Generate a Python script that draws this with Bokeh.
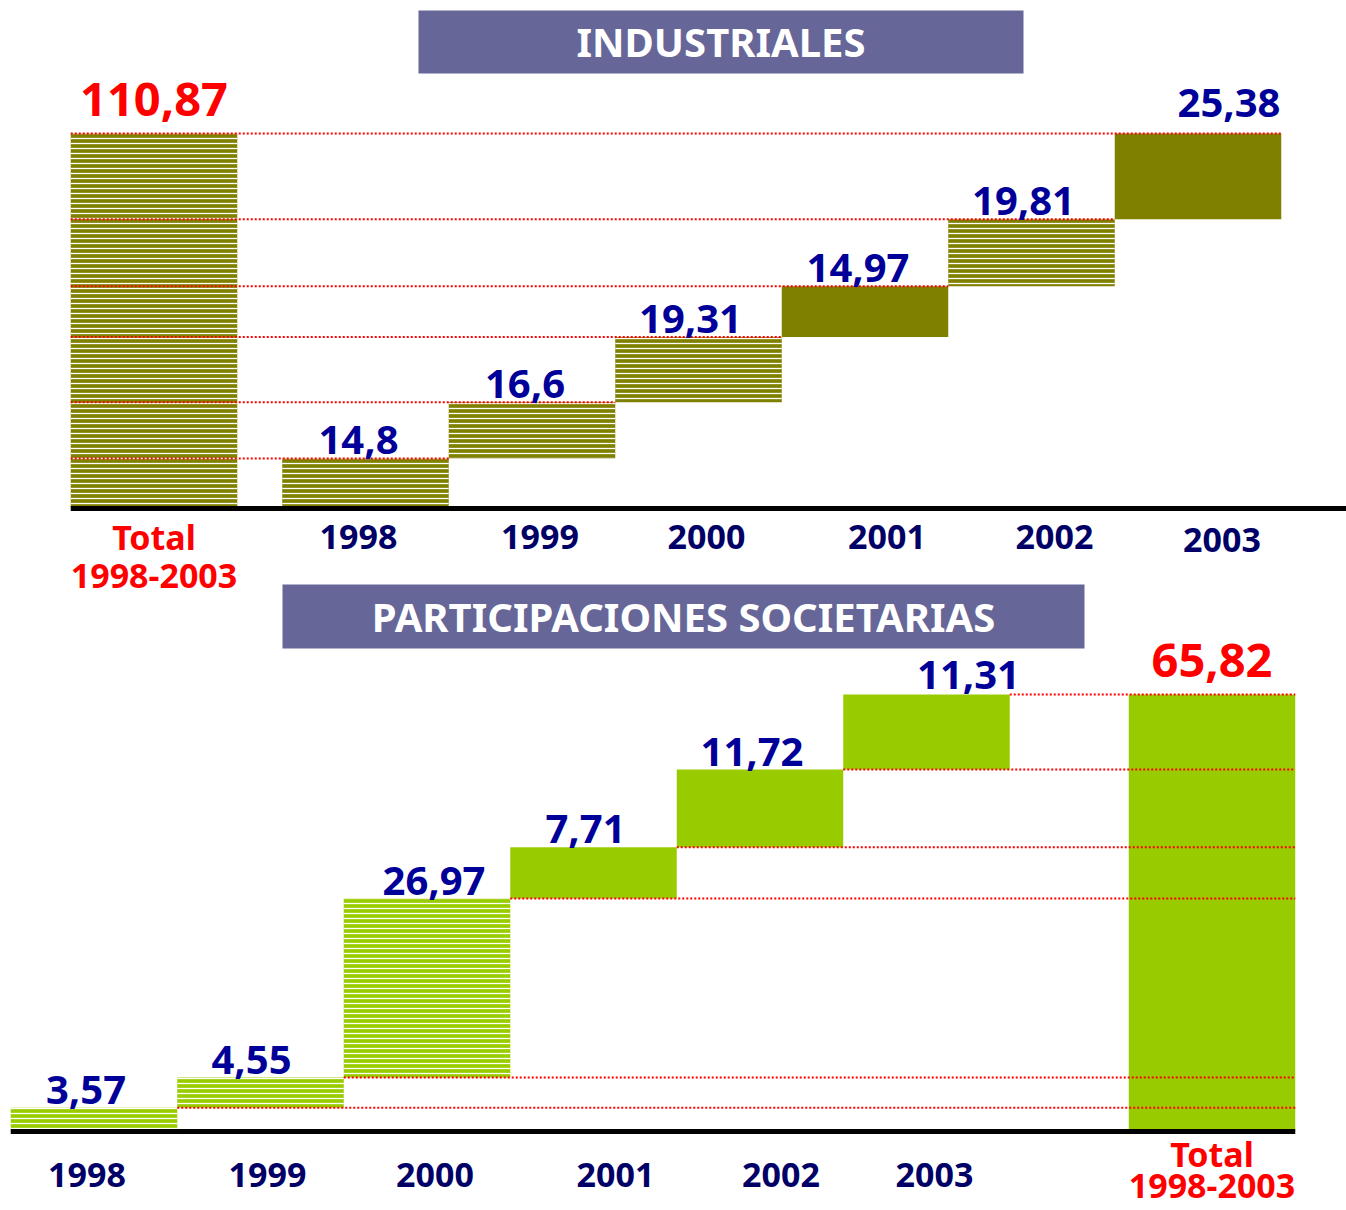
import numpy as np
from bokeh.plotting import figure
from bokeh.models import Range1d, ColumnDataSource
from bokeh.embed import file_html
from bokeh.resources import INLINE
from bokeh.core.properties import value

# ---------------- data ----------------
ind_title = "INDUSTRIALES"
ind_years = ["1998", "1999", "2000", "2001", "2002", "2003"]
ind_values = [14.8, 16.6, 19.31, 14.97, 19.81, 25.38]
ind_hatched = [True, True, True, False, True, False]
ind_total = 110.87

par_title = "PARTICIPACIONES SOCIETARIAS"
par_years = ["1998", "1999", "2000", "2001", "2002", "2003"]
par_values = [3.57, 4.55, 26.97, 7.71, 11.72, 11.31]
par_hatched = [True, True, True, False, False, False]
par_total = 65.82

total_category = ["Total", "1998-2003"]

# ---------------- style / layout ----------------
FONT = value("Noto Sans")
OLIVE = "#808000"
LIME = "#99CC00"
HEADER = "#666699"
VAL_BLUE = "#000099"
CAT_BLUE = "#000066"
RED = "#FF0000"

PAGE = 0
FW, FH = 1346, 1210
BW = 166.5  # pixel width of one category slot

# top chart geometry (page pixels)
T_X0, T_BASE, T_TOP, T_TOTAL_DX = 365.0, 508.0, 133.0, -211.5
# bottom chart geometry (page pixels)
B_X0, B_BASE, B_TOP, B_TOTAL_DX = 93.5, 1131.0, 694.0, 1118.0

kt = ind_total / (T_BASE - T_TOP)
kb = par_total / (B_BASE - B_TOP)


def fmt(v):
    return f"{v:g}".replace(".", ",")


p = figure(width=FW, height=FH, output_backend="svg", toolbar_location=None,
           x_range=Range1d((PAGE - T_X0) / BW, (PAGE + FW - T_X0) / BW),
           y_range=Range1d(-(PAGE + FH - T_BASE) * kt, (T_BASE - PAGE) * kt),
           x_axis_location=None, y_axis_location=None, min_border=0,
           outline_line_color=None, background_fill_color="white",
           border_fill_color="white")
p.grid.visible = False
p.extra_x_ranges = {"b": Range1d((PAGE - B_X0) / BW, (PAGE + FW - B_X0) / BW)}
p.extra_y_ranges = {"b": Range1d(-(PAGE + FH - B_BASE) * kb, (B_BASE - PAGE) * kb)}


def draw_chart(years, values, hatched, total, color, total_x, total_hatched,
               lines_to_left, rng, val_dx, val_dy, cat_dx, cat_dy, tot_dy):
    kw = {}
    if rng:
        kw = dict(x_range_name=rng, y_range_name=rng)
    n = len(values)
    xs = np.arange(n, dtype=float)
    tops = np.cumsum(values)
    bottoms = tops - np.array(values)
    hmask = np.array(hatched)

    hatch = dict(hatch_pattern="horizontal_line", hatch_color="white",
                 hatch_scale=5, hatch_weight=1.3)
    # hatched bars
    p.vbar(x=xs[hmask], width=1.0, bottom=bottoms[hmask], top=tops[hmask],
           fill_color=color, line_color=None, **hatch, **kw)
    p.vbar(x=xs[~hmask], width=1.0, bottom=bottoms[~hmask], top=tops[~hmask],
           fill_color=color, line_color=None, **kw)
    # total bar
    if total_hatched:
        p.vbar(x=[total_x], width=1.0, bottom=[0], top=[total],
               fill_color=color, line_color=None, **hatch, **kw)
    else:
        p.vbar(x=[total_x], width=1.0, bottom=[0], top=[total],
               fill_color=color, line_color=None, **kw)

    # dotted connector lines
    if lines_to_left:
        x0 = [total_x - 0.5] * n
        x1 = list(xs + 0.5)
    else:
        x0 = list(xs + 0.5)
        x1 = [total_x + 0.5] * n
    p.segment(x0=x0, y0=tops, x1=x1, y1=tops, line_color=RED,
              line_dash="2 2", line_width=2, **kw)

    # value labels
    vsrc = ColumnDataSource(dict(x=xs, y=tops, t=[fmt(v) for v in values],
                                 dx=val_dx, dy=val_dy))
    p.text(x="x", y="y", text="t", x_offset="dx", y_offset="dy", source=vsrc,
           text_font=FONT, text_font_style="bold", text_font_size="40px",
           text_color=VAL_BLUE, text_align="center",
           text_baseline="middle", **kw)
    # total label
    p.text(x=[total_x], y=[total], text=[fmt(total)], y_offset=[-34],
           text_font=FONT, text_font_style="bold", text_font_size="47px",
           text_color=RED, text_align="center", text_baseline="middle", **kw)

    # category labels
    csrc = ColumnDataSource(dict(x=xs, y=[0] * n, t=years, dx=cat_dx, dy=cat_dy))
    p.text(x="x", y="y", text="t", x_offset="dx", y_offset="dy", source=csrc,
           text_font=FONT, text_font_style="bold", text_font_size="34px",
           text_color=CAT_BLUE, text_align="center", text_baseline="middle", **kw)
    for lab, dy in zip(total_category, tot_dy):
        p.text(x=[total_x], y=[0], text=[lab], y_offset=[dy],
               text_font=FONT, text_font_style="bold", text_font_size="34px",
               text_color=RED, text_align="center", text_baseline="middle", **kw)


# ---------------- top chart: INDUSTRIALES ----------------
t_total_x = T_TOTAL_DX / BW
draw_chart(ind_years, ind_values, ind_hatched, ind_total, OLIVE, t_total_x, True,
           True, None,
           val_dx=[-7, -7, -8, -7, -8, 31],
           val_dy=[-18, -18, -18, -18, -18, -31],
           cat_dx=[-7, 8, 8, 22, 23, 24],
           cat_dy=[28, 28, 28, 28, 28, 31],
           tot_dy=[28, 67])
# baseline
p.segment(x0=[t_total_x - 0.5], y0=[0], x1=[(PAGE + FW - T_X0) / BW], y1=[0],
          line_color="black", line_width=5)

# ---------------- bottom chart: PARTICIPACIONES ----------------
b_total_x = B_TOTAL_DX / BW
draw_chart(par_years, par_values, par_hatched, par_total, LIME, b_total_x, False,
           False, "b",
           val_dx=[-8, -9, 7, -8, -8, 42],
           val_dy=[-18, -18, -18, -18, -18, -19],
           cat_dx=[-7, 7, 8, 22, 21, 8],
           cat_dy=[43] * 6,
           tot_dy=[22, 54])
p.segment(x0=[-0.5], y0=[0], x1=[b_total_x + 0.5], y1=[0],
          line_color="black", line_width=5, x_range_name="b", y_range_name="b")


# ---------------- header boxes ----------------
def tx(px):
    return (px - T_X0) / BW


def ty(py):
    return (T_BASE - py) * kt


def bx(px):
    return (px - B_X0) / BW


def by(py):
    return (B_BASE - py) * kb


p.rect(x=[tx(720.5)], y=[ty(41.5)], width=605, height=63, width_units="screen",
       height_units="screen", fill_color=HEADER, line_color=None)
p.text(x=[tx(720.5)], y=[ty(41)], text=[ind_title], text_font=FONT,
       text_font_style="bold", text_font_size="40px", text_color="white",
       text_align="center", text_baseline="middle")
p.rect(x=[bx(683)], y=[by(616)], width=802, height=64, width_units="screen",
       height_units="screen", fill_color=HEADER, line_color=None,
       x_range_name="b", y_range_name="b")
p.text(x=[bx(683)], y=[by(616)], text=[par_title], text_font=FONT,
       text_font_style="bold", text_font_size="40px", text_color="white",
       text_align="center", text_baseline="middle",
       x_range_name="b", y_range_name="b")

open("out.html", "w").write(file_html(p, INLINE))
